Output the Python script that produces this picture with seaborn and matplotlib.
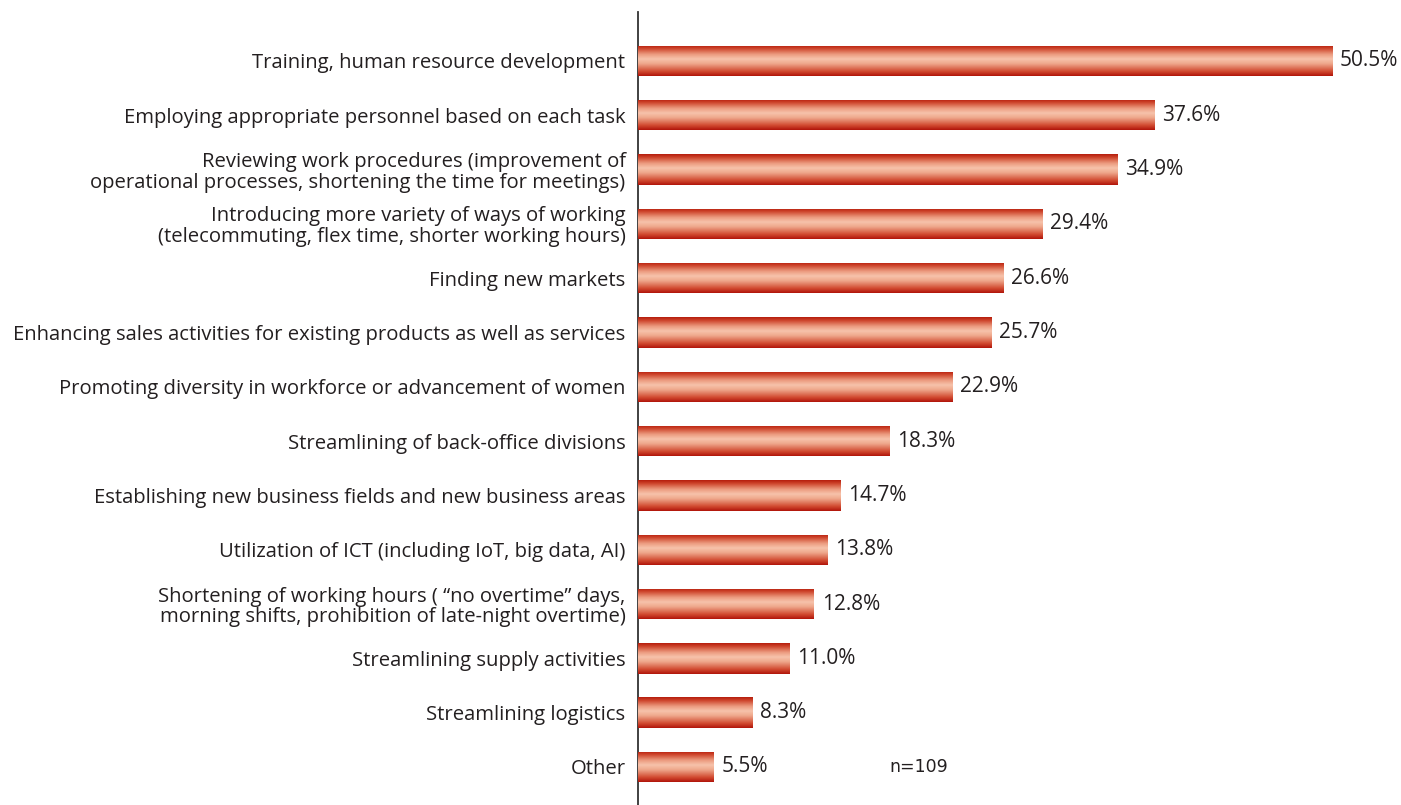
import numpy as np
import pandas as pd
import matplotlib
matplotlib.use('Agg')
import matplotlib.pyplot as plt
import seaborn as sns
from matplotlib.colors import LinearSegmentedColormap

# Data
labels = [
    'Training, human resource development',
    'Employing appropriate personnel based on each task',
    'Reviewing work procedures (improvement of\noperational processes, shortening the time for meetings)',
    'Introducing more variety of ways of working\n(telecommuting, flex time, shorter working hours)',
    'Finding new markets',
    'Enhancing sales activities for existing products as well as services',
    'Promoting diversity in workforce or advancement of women',
    'Streamlining of back-office divisions',
    'Establishing new business fields and new business areas',
    'Utilization of ICT (including IoT, big data, AI)',
    'Shortening of working hours ( \u201cno overtime\u201d days,\nmorning shifts, prohibition of late-night overtime)',
    'Streamlining supply activities',
    'Streamlining logistics',
    'Other',
]
values = [50.5, 37.6, 34.9, 29.4, 26.6, 25.7, 22.9, 18.3, 14.7, 13.8, 12.8, 11.0, 8.3, 5.5]
sample_note = 'n=109'

df = pd.DataFrame({'label': labels, 'value': values})

sns.set_style('white')
plt.rcParams['font.family'] = ['Open Sans', 'DejaVu Sans']
text_color = '#231f20'

fig = plt.figure(figsize=(14.01, 8.05), dpi=100)
ax = fig.add_axes([638 / 1401, 0.0, 1 - 638 / 1401, (805 - 12) / 805])

sns.barplot(data=df, x='value', y='label', color='#c8321e', width=0.56,
            orient='h', ax=ax, zorder=2)

# vertical gradient on each bar (dark edges, light middle)
grad_cmap = LinearSegmentedColormap.from_list('bar', [
    (0.0, '#b51d0c'), (0.1, '#cc4128'), (0.3, '#ec9c80'),
    (0.45, '#f7c3ab'), (0.6, '#efa88c'), (0.85, '#d14a30'), (1.0, '#b0140a')])
grad = np.linspace(0, 1, 256).reshape(-1, 1)
xlim, ylim = (0, 55.5), (13.7, -0.9)
for p in ax.patches:
    x0, y0 = p.get_x(), p.get_y()
    w, h = p.get_width(), p.get_height()
    im = ax.imshow(grad, cmap=grad_cmap, aspect='auto', origin='upper',
                   interpolation='bilinear',
                   extent=(x0, x0 + w, y0 + h, y0), zorder=3)
    im.set_clip_path(p)
    p.set_edgecolor('none')

ax.bar_label(ax.containers[0], fmt='%.1f%%', padding=5.5, fontsize=15,
             color=text_color)

ax.set_xlim(*xlim)
ax.set_ylim(*ylim)
ax.set_xlabel('')
ax.set_ylabel('')
ax.set_xticks([])
ax.tick_params(axis='y', length=0, pad=9, labelsize=14.6, labelcolor=text_color)
for t in ax.get_yticklabels():
    t.set_linespacing(1.05)
for s in ['top', 'right', 'bottom']:
    ax.spines[s].set_visible(False)
ax.spines['left'].set_color('#333333')
ax.spines['left'].set_linewidth(1.3)

ax.text(20.4, 13, sample_note, fontsize=12.5, color=text_color, va='center',
        ha='center', family=['DejaVu Sans'])

fig.savefig('out.png', dpi=100)
